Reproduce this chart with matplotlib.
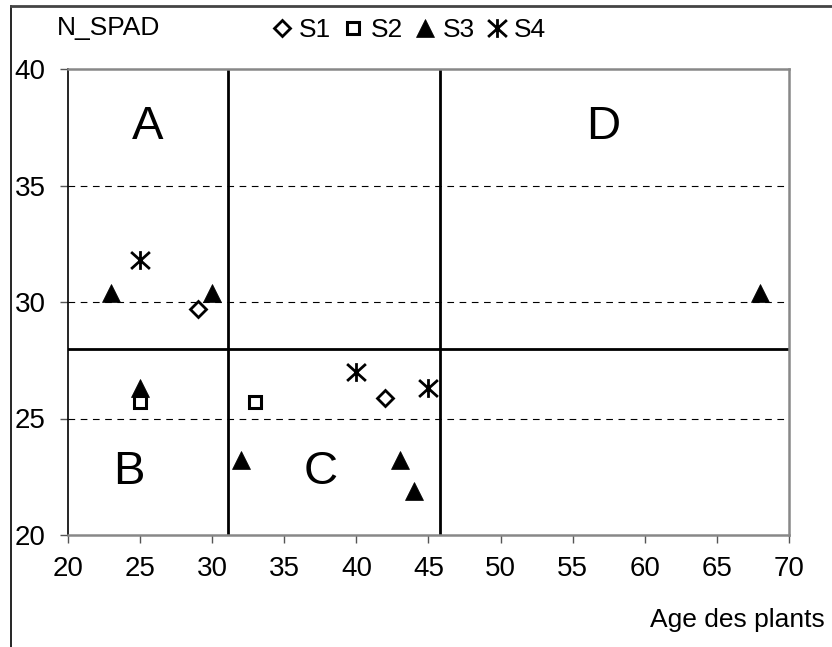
import matplotlib
matplotlib.use('Agg')
from matplotlib import pyplot as plt
from matplotlib.lines import Line2D
from matplotlib.path import Path

plt.rcParams['font.family'] = ['Liberation Sans', 'DejaVu Sans']

# Data: age of the plants vs N_SPAD
s1_age = [29, 42]
s1_spad = [29.7, 25.9]
s2_age = [25, 33]
s2_spad = [25.7, 25.7]
s3_age = [23, 30, 25, 32, 43, 44, 68]
s3_spad = [30.4, 30.4, 26.3, 23.2, 23.2, 21.9, 30.4]
s4_age = [25, 40, 45]
s4_spad = [31.8, 27.0, 26.3]

# Thresholds splitting the zones A, B, C, D
age_limits = [31.1, 45.8]
spad_limit = 28.0
zones = ['A', 'B', 'C', 'D']
zone_age = [25.5, 24.2, 37.5, 57.1]
zone_spad = [37.5, 22.7, 22.7, 37.5]

x_ticks = [20, 25, 30, 35, 40, 45, 50, 55, 60, 65, 70]
y_ticks = [20, 25, 30, 35, 40]

# star marker: X with a vertical bar
star = Path([(-1, -0.9), (1, 0.9), (-1, 0.9), (1, -0.9), (0, -1), (0, 1)],
            [Path.MOVETO, Path.LINETO, Path.MOVETO, Path.LINETO,
             Path.MOVETO, Path.LINETO])

fig = plt.figure(figsize=(8.32, 6.47), dpi=100)
ax = fig.add_axes([68 / 832, 1 - 535 / 647, 721 / 832, 466 / 647])

ax.set_xlim(20, 70)
ax.set_ylim(20, 40)
ax.set_xticks(x_ticks)
ax.set_yticks(y_ticks)
ax.tick_params(axis='both', direction='out', length=6, width=1,
               labelsize=20, color='#555555')
ax.tick_params(axis='x', pad=9)
ax.tick_params(axis='y', pad=10)

for name in ['top', 'right', 'bottom']:
    ax.spines[name].set_color('#888888')
    ax.spines[name].set_linewidth(1.8)
ax.spines['left'].set_color('black')
ax.spines['left'].set_linewidth(1.2)

# dashed horizontal gridlines
for y in y_ticks[1:-1]:
    ax.axhline(y, color='black', lw=0.8, ls=(0, (6, 5)), zorder=1)

# zone separators
for x in age_limits:
    ax.axvline(x, color='black', lw=2, zorder=2)
ax.axhline(spad_limit, color='black', lw=2, zorder=2)

for z, x, y in zip(zones, zone_age, zone_spad):
    ax.text(x, y, z, fontsize=34, ha='center', va='center')

h1, = ax.plot(s1_age, s1_spad, ls='none', marker='D', ms=8.5,
              mfc='white', mec='black', mew=2, zorder=4, label='S1')
h2, = ax.plot(s2_age, s2_spad, ls='none', marker='s', ms=9,
              mfc='white', mec='black', mew=2.2, zorder=4, label='S2')
h3, = ax.plot(s3_age, s3_spad, ls='none', marker='^', ms=13,
              mfc='black', mec='black', mew=0.5, zorder=4, label='S3')
h4, = ax.plot(s4_age, s4_spad, ls='none', marker=star, ms=13.5,
              mfc='none', mec='black', mew=2, zorder=4, label='S4')

fig.legend(handles=[h1, h2, h3, h4], ncol=4, loc='center',
           bbox_to_anchor=(410 / 832, 1 - 30 / 647), frameon=False,
           fontsize=19, handlelength=0.6, handletextpad=0.35,
           columnspacing=0.55, borderpad=0, borderaxespad=0)

fig.text(57 / 832, 1 - 28 / 647, 'N_SPAD', fontsize=19, ha='left', va='center')
fig.text(825 / 832, 1 - 620 / 647, 'Age des plants', fontsize=19,
         ha='right', va='center')

# chart area border (left and top visible)
fig.add_artist(Line2D([11 / 832, 11 / 832], [0, 1 - 6 / 647],
                      transform=fig.transFigure, color='black', lw=1.2))
fig.add_artist(Line2D([11 / 832, 1], [1 - 6 / 647, 1 - 6 / 647],
                      transform=fig.transFigure, color='#444444', lw=2))

fig.savefig('out.png', dpi=100)
